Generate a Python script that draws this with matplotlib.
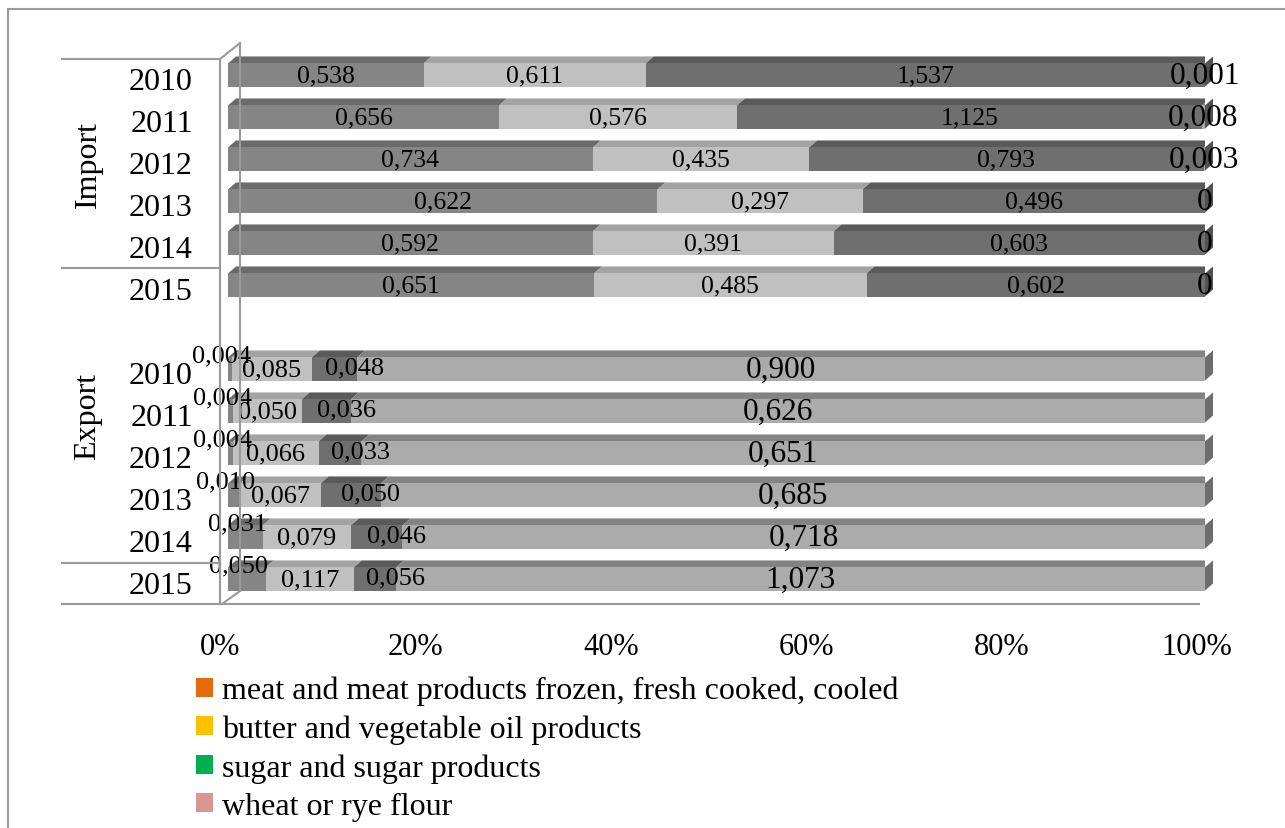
import numpy as np
import matplotlib
matplotlib.use('Agg')
import matplotlib.pyplot as plt
from matplotlib.patches import Polygon, Patch
from matplotlib.lines import Line2D
from matplotlib.transforms import ScaledTranslation

plt.rcParams['font.family'] = ['Liberation Serif', 'DejaVu Serif']

years = ['2010', '2011', '2012', '2013', '2014', '2015']
series = ['meat and meat products frozen, fresh cooked, cooled',
          'butter and vegetable oil products',
          'sugar and sugar products',
          'wheat or rye flour']

import_meat = [0.538, 0.656, 0.734, 0.622, 0.592, 0.651]
import_butter = [0.611, 0.576, 0.435, 0.297, 0.391, 0.485]
import_sugar = [1.537, 1.125, 0.793, 0.496, 0.603, 0.602]
import_flour = [0.001, 0.008, 0.003, 0, 0, 0]

export_meat = [0.004, 0.004, 0.004, 0.010, 0.031, 0.050]
export_butter = [0.085, 0.050, 0.066, 0.067, 0.079, 0.117]
export_sugar = [0.048, 0.036, 0.033, 0.050, 0.046, 0.056]
export_flour = [0.900, 0.626, 0.651, 0.685, 0.718, 1.073]

legend_colors = ['#e46c0a', '#ffc000', '#00b050', '#d99694']
# bars were printed in greys: front, top, side
face_cols = ['#858585', '#c0c0c0', '#6f6f6f', '#ababab']
top_cols = ['#6b6b6b', '#a3a3a3', '#5a5a5a', '#838383']
side_cols = ['#5e5e5e', '#8c8c8c', '#525252', '#6d6d6d']

W, H = 1285, 829
fig = plt.figure(figsize=(W / 100, H / 100), dpi=100)

def fx(x):
    return x / W

def fy(y):
    return 1 - y / H

# axes: x 0..1 -> px 228..1205, slots -0.5..12.5 -> px 55..601
ax = fig.add_axes([fx(228), fy(601), (1205 - 228) / W, (601 - 55) / H])
ax.set_xlim(0, 1)
ax.set_ylim(12.5, -0.5)
for s in ax.spines.values():
    s.set_visible(False)
ax.set_yticks([])
ax.set_xticks([0, 0.2, 0.4, 0.6, 0.8, 1.0])
ax.set_xticklabels(['0%', '20%', '40%', '60%', '80%', '100%'], fontsize=22)
ax.tick_params(axis='x', length=0, pad=23)
for lbl in ax.get_xticklabels():
    lbl.set_transform(lbl.get_transform() + ScaledTranslation(-8 / 100, 0, fig.dpi_scale_trans))

bar_h = 0.55
dx = 8 / 977          # depth in x (data)
dy = 7 / 42           # depth in y (slots)

rows = []
for i in range(6):
    rows.append((i, [import_meat[i], import_butter[i], import_sugar[i], import_flour[i]], 'imp'))
for i in range(6):
    rows.append((7 + i, [export_meat[i], export_butter[i], export_sugar[i], export_flour[i]], 'exp'))

def fmt(v):
    return '0' if v == 0 else f'{v:.3f}'.replace('.', ',')

for slot, vals, kind in rows:
    vals = np.array(vals)
    frac = vals / vals.sum()
    left = np.concatenate([[0], np.cumsum(frac)[:-1]])
    top_y = slot - bar_h / 2
    # top faces
    for k in range(4):
        if frac[k] <= 0:
            continue
        x0, x1 = left[k], left[k] + frac[k]
        ax.add_patch(Polygon([(x0, top_y), (x1, top_y), (x1 + dx, top_y - dy), (x0 + dx, top_y - dy)],
                             closed=True, facecolor=top_cols[k], edgecolor='none', zorder=2))
    # front faces
    ax.barh([slot] * 4, frac, left=left, height=bar_h, color=face_cols, edgecolor='none', zorder=3)
    # right side of the last visible segment
    last = max(k for k in range(4) if frac[k] > 0.01)
    ax.add_patch(Polygon([(1, top_y), (1 + dx, top_y - dy), (1 + dx, slot + bar_h / 2 - dy), (1, slot + bar_h / 2)],
                         closed=True, facecolor=side_cols[last], edgecolor='none', zorder=3, clip_on=False))
    # labels
    for k in range(4):
        cx = left[k] + frac[k] / 2
        ox, oy = 0, 0
        size = 18.5
        if k == 3:
            size = 22.5
        if kind == 'exp' and k == 0:
            ox, oy = -8, 14
            size = 19
        elif kind == 'exp' and k == 2:
            ox, oy = 20, 2
            size = 19
        elif kind == 'exp' and k == 1:
            size = 19
        ax.annotate(fmt(vals[k]), (cx, slot), xytext=(ox * 0.72, oy * 0.72), textcoords='offset points',
                    ha='center', va='center', fontsize=size, zorder=5, annotation_clip=False)

# year labels
for slot, vals, kind in rows:
    ax.annotate(years[slot if kind == 'imp' else slot - 7], (0, slot), xycoords=('axes fraction', 'data'),
                xytext=(-35 * 0.72, -7 * 0.72), textcoords='offset points',
                ha='right', va='center', fontsize=23, annotation_clip=False)

# group labels
fig.text(fx(88), fy(165), 'Import', rotation=90, ha='center', va='center', fontsize=23)
fig.text(fx(88), fy(416), 'Export', rotation=90, ha='center', va='center', fontsize=23)

grid_c = '#9a9a9a'
def line(xs, ys, lw=1.5, c=grid_c, z=1):
    fig.add_artist(Line2D([fx(x) for x in xs], [fy(y) for y in ys], color=c, lw=lw, zorder=z))

# outer frame (top + left)
line([8, W], [10, 10])
line([8, 8], [10, H])
# category brackets
for y in [60, 269, 564, 605]:
    line([62, 220], [y, y])
line([220, 220], [60, 605])
line([220, 240], [60, 44])
line([240, 240], [44, 592])
line([222, 240], [605, 592])
line([220, 1199], [605, 605])

handles = [Patch(facecolor=c, edgecolor='none') for c in legend_colors]
fig.legend(handles, series, loc='upper left', bbox_to_anchor=(fx(196), fy(677)), frameon=False,
           fontsize=23, handlelength=0.53, handleheight=0.53, handletextpad=0.27,
           labelspacing=0.285, borderpad=0, borderaxespad=0)

fig.savefig('out.png', dpi=100)
